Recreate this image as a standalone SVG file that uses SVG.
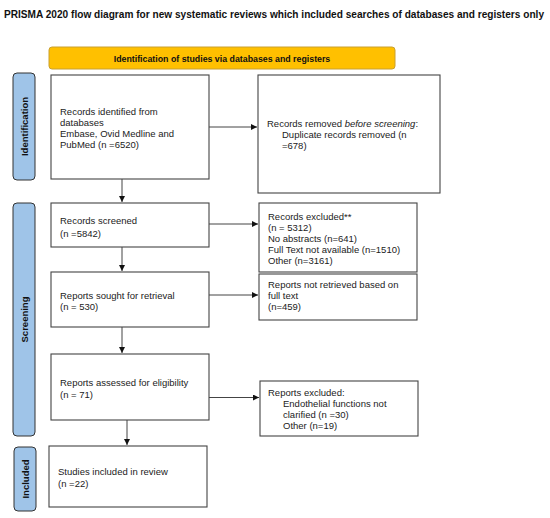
<svg xmlns="http://www.w3.org/2000/svg" width="550" height="518" viewBox="0 0 550 518">
<defs>
<marker id="ah" viewBox="0 0 10 10" refX="10" refY="5" markerWidth="6" markerHeight="6" markerUnits="userSpaceOnUse" orient="auto">
<path d="M0,0 L10,5 L0,10 z" fill="#111"/>
</marker>
<style>
.box{fill:#fff;stroke:#444;stroke-width:1.1}
.side{fill:#9fc4e8;stroke:#333;stroke-width:1}
.t{font-family:"Liberation Sans",Arial,sans-serif;font-size:9.5px;fill:#222}
.st{font-family:"Liberation Sans",Arial,sans-serif;font-size:9.5px;font-weight:bold;fill:#111;text-anchor:middle}
.conn{stroke:#444;stroke-width:1;fill:none;marker-end:url(#ah)}
</style>
</defs>
<rect width="550" height="518" fill="#fff"/>
<text x="4" y="18" font-family="'Liberation Sans',Arial,sans-serif" font-size="10" font-weight="bold" fill="#111" textLength="540" lengthAdjust="spacingAndGlyphs">PRISMA 2020 flow diagram for new systematic reviews which included searches of databases and registers only</text>

<g id="banner">
<rect x="49" y="47" width="346" height="22" rx="3" fill="#ffc000" stroke="#c9a030" stroke-width="1"/>
<text x="222" y="61.5" class="st" style="font-size:8.8px">Identification of studies via databases and registers</text>
</g>

<g id="side-identification">
<rect class="side" x="13" y="73" width="22" height="107" rx="4"/>
<text class="st" transform="translate(27.5,126.5) rotate(-90)">Identification</text>
</g>
<g id="side-screening">
<rect class="side" x="13" y="203" width="22" height="233" rx="4"/>
<text class="st" transform="translate(27.5,319.5) rotate(-90)">Screening</text>
</g>
<g id="side-included">
<rect class="side" x="14" y="447" width="22" height="64" rx="4"/>
<text class="st" transform="translate(28.5,479) rotate(-90)">Included</text>
</g>

<g id="n-identified">
<rect class="box" x="51" y="75" width="158" height="104"/>
<text class="t" x="60" y="115">Records identified from</text>
<text class="t" x="60" y="126">databases</text>
<text class="t" x="60" y="137">Embase, Ovid Medline and</text>
<text class="t" x="60" y="148">PubMed (n =6520)</text>
</g>
<g id="n-removed">
<rect class="box" x="258" y="75" width="182" height="118"/>
<text class="t" x="267" y="127">Records removed <tspan font-style="italic">before screening</tspan>:</text>
<text class="t" x="282" y="138">Duplicate records removed (n</text>
<text class="t" x="282" y="149">=678)</text>
</g>
<g id="n-screened">
<rect class="box" x="51" y="203" width="158" height="44"/>
<text class="t" x="60" y="223.5">Records screened</text>
<text class="t" x="60" y="236.5">(n =5842)</text>
</g>
<g id="n-excluded">
<rect class="box" x="259" y="203" width="158" height="69"/>
<text class="t" x="268" y="219.5">Records excluded**</text>
<text class="t" x="268" y="230.5">(n = 5312)</text>
<text class="t" x="268" y="241.5">No abstracts (n=641)</text>
<text class="t" x="268" y="252.5">Full Text not available (n=1510)</text>
<text class="t" x="268" y="263.5">Other (n=3161)</text>
</g>
<g id="n-sought">
<rect class="box" x="51" y="272" width="158" height="55"/>
<text class="t" x="60" y="298.5">Reports sought for retrieval</text>
<text class="t" x="60" y="310">(n = 530)</text>
</g>
<g id="n-notretrieved">
<rect class="box" x="259" y="274" width="158" height="46"/>
<text class="t" x="268" y="288">Reports not retrieved based on</text>
<text class="t" x="268" y="299">full text</text>
<text class="t" x="268" y="310">(n=459)</text>
</g>
<g id="n-assessed">
<rect class="box" x="51" y="354" width="158" height="66"/>
<text class="t" x="60" y="386">Reports assessed for eligibility</text>
<text class="t" x="60" y="397.5">(n = 71)</text>
</g>
<g id="n-reportsexcluded">
<rect class="box" x="260" y="381" width="158" height="55"/>
<text class="t" x="268" y="396">Reports excluded:</text>
<text class="t" x="283" y="406.5">Endothelial functions not</text>
<text class="t" x="283" y="417.5">clarified (n =30)</text>
<text class="t" x="283" y="428.5">Other (n=19)</text>
</g>
<g id="n-included">
<rect class="box" x="49" y="446" width="158" height="61"/>
<text class="t" x="58" y="475">Studies included in review</text>
<text class="t" x="58" y="486.5">(n =22)</text>
</g>

<g id="connectors">
<line class="conn" x1="209" y1="127" x2="257" y2="127"/>
<line class="conn" x1="122" y1="179" x2="122" y2="202"/>
<line class="conn" x1="209" y1="224" x2="258" y2="224"/>
<line class="conn" x1="122" y1="247" x2="122" y2="271"/>
<line class="conn" x1="209" y1="295" x2="258" y2="295"/>
<line class="conn" x1="122" y1="327" x2="122" y2="353"/>
<line class="conn" x1="209" y1="397.5" x2="259" y2="397.5"/>
<line class="conn" x1="127" y1="420" x2="127" y2="445"/>
</g>
</svg>
